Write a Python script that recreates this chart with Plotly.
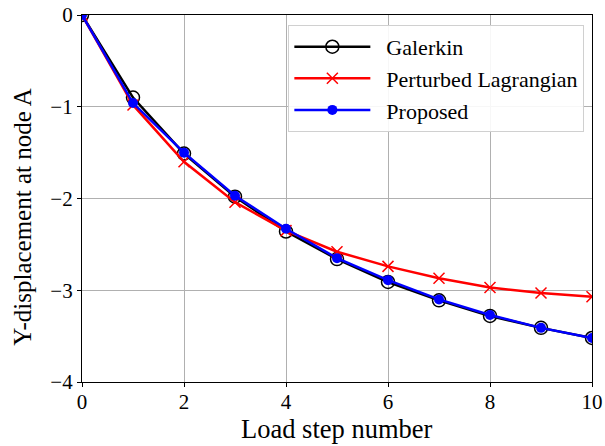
import plotly.graph_objects as go

steps = [0, 1, 2, 3, 4, 5, 6, 7, 8, 9, 10]
galerkin = [0.0, -0.90, -1.51, -1.98, -2.36, -2.66, -2.91, -3.11, -3.28, -3.41, -3.52]
perturbed = [0.0, -0.98, -1.60, -2.04, -2.35, -2.58, -2.74, -2.87, -2.97, -3.03, -3.07]
proposed = [0.0, -0.96, -1.50, -1.97, -2.33, -2.65, -2.89, -3.10, -3.27, -3.41, -3.52]
series_names = ["Galerkin", "Perturbed Lagrangian", "Proposed"]

xticks = [0, 2, 4, 6, 8, 10]
yticks = [0, -1, -2, -3, -4]

x_title = "Load step number"
y_title = "Y-displacement at node A"

FONT = "Liberation Serif"
GAP = "\u00a0\u00a0"  # small visual gap between legend line and label

fig = go.Figure()
fig.add_trace(go.Scatter(x=steps, y=galerkin, name=GAP + series_names[0], mode="lines+markers",
                         line=dict(color="black", width=2.5),
                         marker=dict(symbol="circle-open", size=13, color="black",
                                     line=dict(width=1.5, color="black"))))
fig.add_trace(go.Scatter(x=steps, y=perturbed, name=GAP + series_names[1], mode="lines+markers",
                         line=dict(color="red", width=2.5),
                         marker=dict(symbol="x-thin-open", size=11, color="red",
                                     line=dict(width=1.5, color="red"))))
fig.add_trace(go.Scatter(x=steps, y=proposed, name=GAP + series_names[2], mode="lines+markers",
                         line=dict(color="blue", width=2.5),
                         marker=dict(symbol="circle", size=10, color="blue")))

axis_common = dict(showline=True, linecolor="black", linewidth=1.2, mirror=True,
                   ticks="outside", ticklen=4, tickcolor="black",
                   showgrid=True, gridcolor="#b0b0b0", gridwidth=1, zeroline=False,
                   automargin=False,
                   tickfont=dict(family=FONT, size=21, color="black"))

fig.update_layout(
    width=605, height=446,
    margin=dict(l=82, r=13, t=15, b=64),
    paper_bgcolor="white", plot_bgcolor="white",
    font=dict(family=FONT, size=21, color="black"),
    xaxis=dict(range=[0, 10], tickvals=xticks, ticklabelstandoff=-3, **axis_common),
    yaxis=dict(range=[-4, 0], tickvals=yticks, **axis_common),
    legend=dict(x=0.985, y=0.973, xanchor="right", yanchor="top",
                bgcolor="rgba(255,255,255,0.9)", bordercolor="#d0d0d0", borderwidth=1,
                font=dict(family=FONT, size=22), itemwidth=76, tracegroupgap=0),
    showlegend=True,
    annotations=[
        dict(text=x_title, xref="paper", yref="paper", x=0.5, y=0,
             xanchor="center", yanchor="top", yshift=-30, showarrow=False,
             font=dict(family=FONT, size=26.5, color="black")),
        dict(text=y_title, xref="paper", yref="paper", x=0, y=0.45,
             xanchor="center", yanchor="middle", xshift=-59, textangle=-90, showarrow=False,
             font=dict(family=FONT, size=25, color="black")),
    ],
)

fig.write_html("out.html")
